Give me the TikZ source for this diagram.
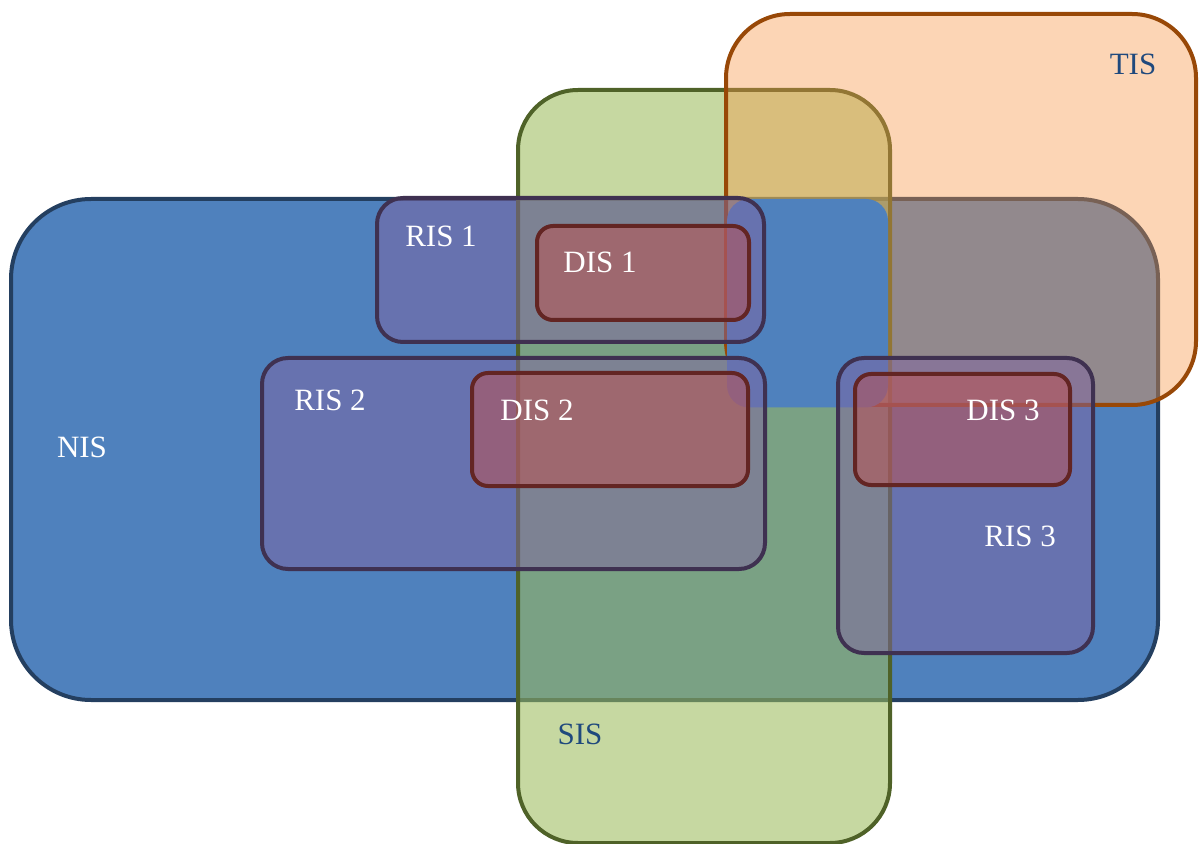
\documentclass[tikz,border=0pt]{standalone}
\usepackage{fontspec}
\setmainfont{Liberation Serif}
\definecolor{nisfill}{HTML}{4F81BD}
\definecolor{nisline}{HTML}{243F60}
\definecolor{sisfill}{HTML}{9BBB59}
\definecolor{sisline}{HTML}{4F6228}
\definecolor{tisfill}{HTML}{F79646}
\definecolor{tisline}{HTML}{984807}
\definecolor{risfill}{HTML}{8064A2}
\definecolor{risline}{HTML}{3F3151}
\definecolor{disfill}{HTML}{C0504D}
\definecolor{disline}{HTML}{632523}
\definecolor{darkblue}{HTML}{1F497D}
\tikzset{
  nisbox/.style={draw=nisline, line width=2pt, fill=nisfill, rounded corners=40pt},
  sisbox/.style={draw=sisline, line width=2pt, fill=sisfill, fill opacity=0.57, rounded corners=30pt},
  tisbox/.style={draw=tisline, line width=2pt, fill=tisfill, fill opacity=0.4, rounded corners=32pt},
  patchbox/.style={fill=nisfill, rounded corners=11pt},
  risbox/.style={draw=risline, line width=2pt, fill=risfill, fill opacity=0.5, rounded corners=13pt},
  disbox/.style={draw=disline, line width=2pt, fill=disfill, fill opacity=0.5, rounded corners=8pt},
  lbl/.style={inner sep=0pt, font=\fontsize{15.5}{18}\selectfont, text=white},
  dlbl/.style={lbl, text=darkblue}
}
\begin{document}
\begin{tikzpicture}[x=0.5pt,y=-0.5pt]
\useasboundingbox (0,0) rectangle (1199,844);
% big sets
\draw[nisbox] (11,199) rectangle (1158,700);
\draw[sisbox] (518,90) rectangle (890,843);
\draw[tisbox] (726,14) rectangle (1196,405);
\fill[patchbox] (727,199) rectangle (888,407.5);
% RIS and DIS
\draw[risbox] (377,198) rectangle (764,342);
\draw[risbox] (262,358) rectangle (765,569);
\draw[risbox] (838,358) rectangle (1093,653);
\draw[disbox] (537,226) rectangle (749,320);
\draw[disbox] (472,373) rectangle (748,486);
\draw[disbox] (855,374) rectangle (1070,485);
% labels
\node[lbl] (nis) at (82,447) {NIS};
\node[dlbl] (sis) at (580,734) {SIS};
\node[dlbl] (tis) at (1133,64) {TIS};
\node[lbl] (ris1) at (441,236) {RIS 1};
\node[lbl] (ris2) at (330,400) {RIS 2};
\node[lbl] (ris3) at (1020,536) {RIS 3};
\node[lbl] (dis1) at (600,262) {DIS 1};
\node[lbl] (dis2) at (537,410) {DIS 2};
\node[lbl] (dis3) at (1003,410) {DIS 3};
\end{tikzpicture}
\end{document}
